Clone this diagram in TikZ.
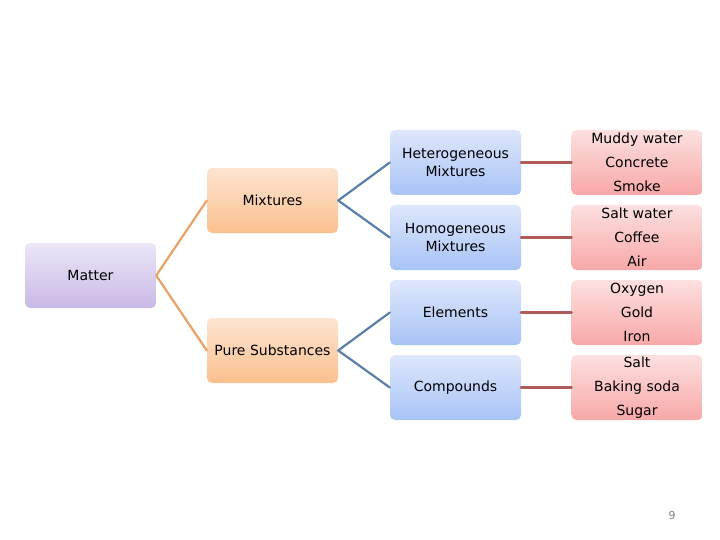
\documentclass[tikz,border=0pt]{standalone}
\usepackage{fontspec}
\setmainfont{DejaVu Sans}
\definecolor{lineorange}{HTML}{E9A263}
\definecolor{lineblue}{HTML}{5A7FA8}
\definecolor{linered}{HTML}{B05A5A}

\begin{document}
\begin{tikzpicture}[x=1pt, y=-1pt, line cap=round, line join=round,
  box/.style={rounded corners=5pt, minimum width=131pt, minimum height=65pt,
    inner sep=0pt, align=center, font=\fontsize{14}{18}\selectfont},
  purplebox/.style={box, top color={rgb,255:red,236;green,230;blue,247}, bottom color={rgb,255:red,201;green,185;blue,230}},
  orangebox/.style={box, top color={rgb,255:red,253;green,229;blue,209}, bottom color={rgb,255:red,251;green,192;blue,143}},
  bluebox/.style={box, top color={rgb,255:red,222;green,231;blue,252}, bottom color={rgb,255:red,168;green,195;blue,246}},
  redbox/.style={box, top color={rgb,255:red,253;green,224;blue,224}, bottom color={rgb,255:red,248;green,168;blue,168},
    font=\fontsize{14}{24}\selectfont},
  orangeline/.style={lineorange, line width=2.2pt},
  blueline/.style={lineblue, line width=2.2pt},
  redline/.style={linered, line width=3pt}]

\useasboundingbox (0,0) rectangle (720,540);

% root
\node[purplebox] (matter) at (90.5,275.5) {Matter};

% second level
\node[orangebox] (mix) at (272.5,200.5) {Mixtures};
\node[orangebox] (pure) at (272.5,350.5) {Pure Substances};

% third level
\node[bluebox] (hetero) at (455.5,162.5) {Heterogeneous\\Mixtures};
\node[bluebox] (homo) at (455.5,237.5) {Homogeneous\\Mixtures};
\node[bluebox] (elem) at (455.5,312.5) {Elements};
\node[bluebox] (comp) at (455.5,387.5) {Compounds};

% examples
\node[redbox] (ex1) at (637,162.5) {Muddy water\\Concrete\\Smoke};
\node[redbox] (ex2) at (637,237.5) {Salt water\\Coffee\\Air};
\node[redbox] (ex3) at (637,312.5) {Oxygen\\Gold\\Iron};
\node[redbox] (ex4) at (637,387.5) {Salt\\Baking soda\\Sugar};

\draw[orangeline] (mix.west) -- (matter.east) -- (pure.west);
\draw[blueline] (hetero.west) -- (mix.east) -- (homo.west);
\draw[blueline] (elem.west) -- (pure.east) -- (comp.west);

\draw[redline] (hetero) -- (ex1);
\draw[redline] (homo) -- (ex2);
\draw[redline] (elem) -- (ex3);
\draw[redline] (comp) -- (ex4);

\node[gray, font=\fontsize{11}{13}\selectfont] (page) at (672,515) {9};

\end{tikzpicture}
\end{document}
